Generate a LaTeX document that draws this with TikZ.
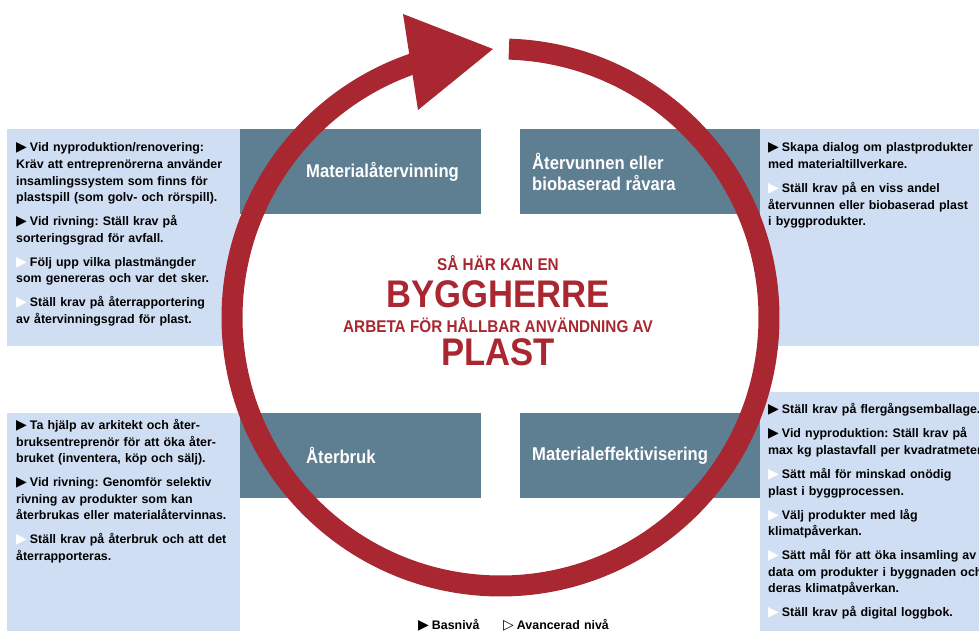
\documentclass[tikz,border=0pt]{standalone}
\usepackage{fontspec}
\setmainfont{Liberation Sans}
\newfontfamily\bodyfont{Liberation Sans}
\newfontfamily\condfont[FakeStretch=0.9]{Liberation Sans}
\newfontfamily\symfont{DejaVu Sans}
\usetikzlibrary{calc}
\definecolor{ringred}{RGB}{169,39,48}
\definecolor{slate}{RGB}{94,126,145}
\definecolor{paleblue}{RGB}{208,222,243}
\newcommand{\bas}{\smash{\symfont\fontsize{14}{14}\selectfont ▶}\hspace{3pt}}
\newcommand{\avan}{\smash{\symfont\fontsize{14}{14}\selectfont\color{white}▶}\hspace{3pt}}
\newcommand{\avanlegend}{\smash{\symfont\fontsize{14}{14}\selectfont ▷}\hspace{3pt}}

\begin{document}
\frenchspacing
\begin{tikzpicture}[x=1pt,y=-1pt,
  note/.style={anchor=base west,inner sep=0pt,text width=260pt,align=left,
    font={\bodyfont\bfseries\fontsize{12.4}{16.6}\selectfont}},
  boxtext/.style={anchor=west,inner sep=0pt,align=left,text=white,
    font={\condfont\bfseries\fontsize{18.5}{21}\selectfont}},
  ring/.style={draw=ringred,line width=21pt},
  head/.style={anchor=base,inner sep=0pt,text=ringred,
    font={\condfont\bfseries\fontsize{17}{17}\selectfont}},
  bighead/.style={head,font={\condfont\bfseries\fontsize{38.5}{38.5}\selectfont}}]
\useasboundingbox (0,0) rectangle (979,631);
\clip (0,0) rectangle (979,631);
\foreach \xa/\ya/\xb/\yb in {7/129/240/346,760/129/979/346,7/413/240/631,760/392/979/631}
  \fill[paleblue] (\xa,\ya) rectangle (\xb,\yb);
\foreach \xa/\ya/\xb/\yb in {240/129/481/214,520/129/760/214,240/413/481/498,520/413/760/498}
  \fill[slate] (\xa,\ya) rectangle (\xb,\yb);
% cycle arrow
\coordinate (C) at (500.5,317.5);
\coordinate (tip) at (493,49);
\coordinate (backA) at (403,14);
\coordinate (backB) at (418,110);
\draw[ring] ($(C)+(271.8:268.5)$) arc[start angle=271.8,end angle=612,radius=268.5];
\fill[ringred] (backA) -- (tip) -- (backB) -- cycle;
% title
\node[head] (t1) at (498,270) {SÅ HÄR KAN EN};
\node[bighead] (t2) at (498,307) {BYGGHERRE};
\node[head] (t3) at (498,332) {ARBETA FÖR HÅLLBAR ANVÄNDNING AV};
\node[bighead] (t4) at (498,365) {PLAST};
% steps
\node[boxtext] (atervinning) at (306,171.5) {Materialåtervinning};
\node[boxtext] (ravara) at (532,171.5) {Återvunnen eller\\biobaserad råvara};
\node[boxtext] (aterbruk) at (306,455.5) {Återbruk};
\node[boxtext] (effektiv) at (532,455.5) {Materialeffektivisering};
% requirements
\node[note] (krav1) at (16,152) {\bas Vid nyproduktion/renovering:\\Kräv att entreprenörerna använder\\insamlingssystem som finns för\\plastspill (som golv- och rörspill).\\[7.4pt]
\bas Vid rivning: Ställ krav på\\sorteringsgrad för avfall.\\[7.4pt]
\avan Följ upp vilka plastmängder\\som genereras och var det sker.\\[7.4pt]
\avan Ställ krav på återrapportering\\av återvinningsgrad för plast.};
\node[note] (krav2) at (768,152) {\bas Skapa dialog om plastprodukter\\med materialtillverkare.\\[7.4pt]
\avan Ställ krav på en viss andel\\återvunnen eller biobaserad plast\\i byggprodukter.};
\node[note] (krav3) at (16,429.5) {\bas Ta hjälp av arkitekt och åter-\\bruksentreprenör för att öka åter-\\bruket (inventera, köp och sälj).\\[7.4pt]
\bas Vid rivning: Genomför selektiv\\rivning av produkter som kan\\återbrukas eller materialåtervinnas.\\[7.4pt]
\avan Ställ krav på återbruk och att det\\återrapporteras.};
\node[note] (krav4) at (768,413.8) {\bas Ställ krav på flergångsemballage.\\[7.4pt]
\bas Vid nyproduktion: Ställ krav på\\max kg plastavfall per kvadratmeter.\\[7.4pt]
\avan Sätt mål för minskad onödig\\plast i byggprocessen.\\[7.4pt]
\avan Välj produkter med låg\\klimatpåverkan.\\[7.4pt]
\avan Sätt mål för att öka insamling av\\data om produkter i byggnaden och\\deras klimatpåverkan.\\[7.4pt]
\avan Ställ krav på digital loggbok.};
% legend
\node[note,text width=80pt] (basniva) at (418,629.5) {\bas Basnivå};
\node[note,text width=120pt] (avanniva) at (503,629.5) {\avanlegend Avancerad nivå};
\end{tikzpicture}
\end{document}
